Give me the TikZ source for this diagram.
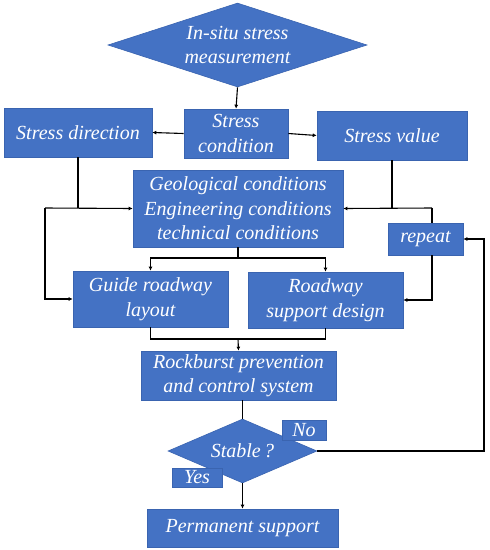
\documentclass[tikz,border=0pt]{standalone}
\usepackage{fontspec}
\setmainfont{Liberation Serif}
\usetikzlibrary{shapes.geometric,arrows.meta}
\definecolor{boxblue}{HTML}{4472C4}
\definecolor{boxedge}{HTML}{3A64B0}
\begin{document}
\begin{tikzpicture}[x=1pt,y=-1pt,
  txt/.style={text=white,font=\fontsize{20}{24.5}\selectfont\itshape,align=center},
  box/.style={txt,rectangle,fill=boxblue,draw=boxedge,line width=0.6pt,inner sep=0pt},
  dia/.style={txt,diamond,fill=boxblue,draw=boxedge,line width=0.6pt,inner sep=0pt,aspect=2.5},
  conn/.style={line width=1.1pt,draw=black},
  arr/.style={conn,-{Latex[length=4pt,width=4pt]}}]
\useasboundingbox (0,0) rectangle (490,550);
\node[dia,minimum width=259pt,minimum height=84pt] (meas) at (237.5,45) {In-situ stress\\measurement};
\node[box,minimum width=104pt,minimum height=49pt] (cond) at (236,133.5) {Stress\\condition};
\node[box,minimum width=148pt,minimum height=49pt] (dir) at (78,132.5) {Stress direction};
\node[box,minimum width=150pt,minimum height=49pt] (val) at (392,135.5) {Stress value};
\node[box,minimum width=210pt,minimum height=77pt] (geo) at (238,208.5) {Geological conditions\\Engineering conditions\\technical conditions};
\node[box,minimum width=75pt,minimum height=32pt] (rep) at (425.5,239) {repeat};
\node[box,minimum width=155pt,minimum height=56pt] (guide) at (150.5,299) {Guide roadway\\layout};
\node[box,minimum width=155pt,minimum height=56pt] (sup) at (325.5,300) {Roadway\\support design};
\node[box,minimum width=195pt,minimum height=49pt] (rock) at (238.5,375.5) {Rockburst prevention\\and control system};
\node[dia,minimum width=149pt,minimum height=64pt] (stab) at (242.5,451) {Stable\,?};
\node[box,minimum width=44pt,minimum height=20pt] (no) at (304,430) {No};
\node[box,minimum width=50pt,minimum height=19pt] (yes) at (197,477.5) {Yes};
\node[box,minimum width=191pt,minimum height=38pt] (perm) at (242.5,528) {Permanent support};
\coordinate (dirj) at (78,208);
\coordinate (leftc) at (45,208);
\coordinate (valj) at (392,208);
\coordinate (repj) at (432,208);
\coordinate (splitc) at (238,258);
\coordinate (mergec) at (238,339);
\coordinate (farr) at (484,451);
\draw[arr] (meas.south) -- (cond.north);
\draw[arr] (cond.west) -- (dir.east);
\draw[arr] (cond.east) -- (val.west);
\draw[conn] (dir.south) -- (dirj);
\draw[arr] (leftc) -- (geo.west);
\draw[arr] (leftc) |- (guide.west);
\draw[conn] (val.south) -- (valj);
\draw[arr] (repj) -- (geo.east);
\draw[conn] (repj) -- (repj |- rep.north);
\draw[arr] (repj |- rep.south) |- (sup.east);
\draw[conn] (geo.south) -- (splitc);
\draw[arr] (splitc) -| (guide.north);
\draw[arr] (splitc) -| (sup.north);
\draw[conn] (guide.south) |- (mergec) -| (sup.south);
\draw[arr] (mergec) -- (rock.north);
\draw[conn] (rock.south -| stab.north) -- (stab.north);
\draw[arr] (stab.east) -- (farr) |- (rep.east);
\draw[arr] (stab.south) -- (perm.north);
\end{tikzpicture}
\end{document}
